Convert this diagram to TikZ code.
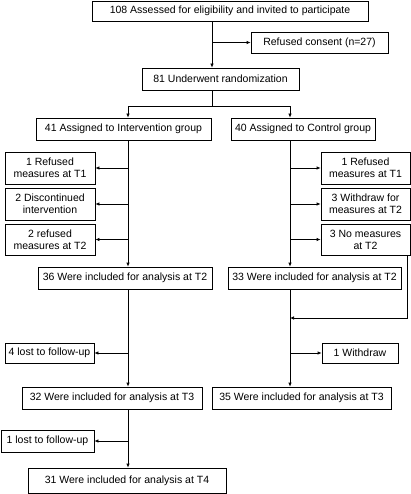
\documentclass[tikz,border=0pt]{standalone}
\usepackage{fontspec}
\setmainfont{Liberation Sans}
\usetikzlibrary{arrows.meta}
\tikzset{
  box/.style={draw, line width=0.7pt, inner sep=1pt, align=center,
    font=\fontsize{10.5}{12}\selectfont},
  >={Latex[length=4pt,width=3.5pt]}
}
\begin{document}
\begin{tikzpicture}[x=1pt,y=-1pt,line width=0.7pt]
  \useasboundingbox (0,0) rectangle (411,494);

  \node[box,minimum width=276,minimum height=20] at (230,11) (top) {108 Assessed for eligibility and invited to participate};
  \node[box,minimum width=137,minimum height=21] at (319.5,42.5) (refused) {Refused consent (n=27)};
  \node[box,minimum width=157,minimum height=22] at (220.5,79) (rand) {81 Underwent randomization};
  \node[box,minimum width=175,minimum height=22] at (123.5,129) (int) {41 Assigned to Intervention group};
  \node[box,minimum width=144,minimum height=22] at (303,129) (ctl) {40 Assigned to Control group};

  % intervention drop-outs
  \node[box,minimum width=90,minimum height=32] at (50,168) (il1) {1 Refused\\measures at T1};
  \node[box,minimum width=90,minimum height=32] at (50,204) (il2) {2 Discontinued\\intervention};
  \node[box,minimum width=90,minimum height=31] at (50,239.5) (il3) {2 refused\\measures at T2};
  % control drop-outs
  \node[box,minimum width=89,minimum height=32] at (365.5,168) (cl1) {1 Refused\\measures at T1};
  \node[box,minimum width=89,minimum height=32] at (365.5,204) (cl2) {3 Withdraw for\\measures at T2};
  \node[box,minimum width=89,minimum height=31] at (365.5,239.5) (cl3) {3 No measures\\at T2};

  \node[box,minimum width=174,minimum height=22] at (125,278) (it2) {36 Were included for analysis at T2};
  \node[box,minimum width=173,minimum height=22] at (314.5,278) (ct2) {33 Were included for analysis at T2};
  \node[box,minimum width=89,minimum height=20] at (49.5,353) (il4) {4 lost to follow-up};
  \node[box,minimum width=76,minimum height=20] at (360,353) (cl4) {1 Withdraw};
  \node[box,minimum width=180,minimum height=22] at (112,398) (it3) {32 Were included for analysis at T3};
  \node[box,minimum width=179,minimum height=22] at (301.5,398) (ct3) {35 Were included for analysis at T3};
  \node[box,minimum width=93,minimum height=22] at (47.5,441) (il5) {1 lost to follow-up};
  \node[box,minimum width=198,minimum height=25] at (127,480.5) (it4) {31 Were included for analysis at T4};

  % guide lines
  \coordinate (s1) at (212,0);
  \coordinate (li) at (128,0);
  \coordinate (lc) at (290,0);
  \coordinate (rx) at (407,0);
  \coordinate (sp) at (212,106);
  \coordinate (jn) at (290,318);

  % draw edges
  \draw[->] (top.south -| s1) -- (rand.north -| s1);
  \draw[->] (s1 |- refused.west) -- (refused.west);
  \draw (rand.south -| s1) -- (sp);
  \draw[->] (sp) -| (li |- int.north);
  \draw[->] (sp) -| (lc |- ctl.north);

  \draw[->] (li |- int.south) -- (li |- it2.north);
  \draw[->] (li |- il1.east) -- (il1.east);
  \draw[->] (li |- il2.east) -- (il2.east);
  \draw[->] (li |- il3.east) -- (il3.east);
  \draw[->] (lc |- ctl.south) -- (lc |- ct2.north);
  \draw[->] (lc |- cl1.west) -- (cl1.west);
  \draw[->] (lc |- cl2.west) -- (cl2.west);
  \draw[->] (lc |- cl3.west) -- (cl3.west);

  \draw[->] (rx |- cl3.south) |- (jn);
  \draw[->] (li |- it2.south) -- (li |- it3.north);
  \draw[->] (li |- il4.east) -- (il4.east);
  \draw[->] (lc |- ct2.south) -- (lc |- ct3.north);
  \draw[->] (lc |- cl4.west) -- (cl4.west);
  \draw[->] (li |- it3.south) -- (li |- it4.north);
  \draw[->] (li |- il5.east) -- (il5.east);
\end{tikzpicture}
\end{document}
